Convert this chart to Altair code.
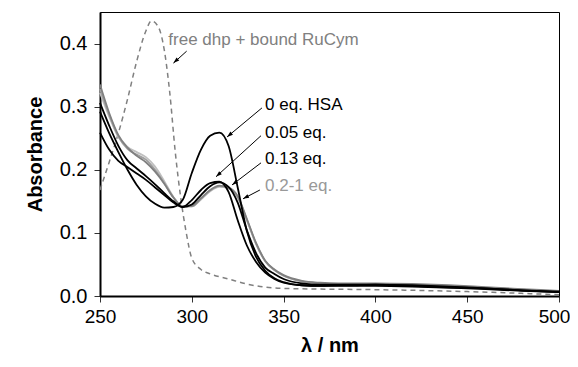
import math
import altair as alt
import pandas as pd

FONT = "Liberation Sans"
W, H = 459, 284
XMIN, XMAX, YMAX = 250, 500, 0.45

# ---- data ----
wl = [250, 255, 260, 265, 270, 275, 280, 285, 290, 295, 300, 305, 310, 315, 320,
      325, 330, 335, 340, 345, 350, 360, 370, 380, 390, 400, 420, 440, 460, 480, 500]

eq0 = [0.292, 0.258, 0.228, 0.200, 0.176, 0.158, 0.146, 0.140, 0.141, 0.152, 0.195,
       0.232, 0.254, 0.259, 0.238, 0.172, 0.103, 0.062, 0.040, 0.028, 0.022, 0.017,
       0.016, 0.016, 0.016, 0.016, 0.015, 0.013, 0.011, 0.008, 0.006]
eq005 = [0.259, 0.232, 0.214, 0.204, 0.194, 0.184, 0.172, 0.160, 0.148, 0.141, 0.152,
         0.168, 0.179, 0.181, 0.165, 0.120, 0.080, 0.054, 0.037, 0.027, 0.021, 0.017,
         0.016, 0.017, 0.017, 0.018, 0.016, 0.014, 0.012, 0.009, 0.006]
eq013 = [0.306, 0.270, 0.238, 0.215, 0.202, 0.190, 0.177, 0.163, 0.150, 0.141, 0.145,
         0.160, 0.174, 0.180, 0.173, 0.148, 0.104, 0.068, 0.045, 0.035, 0.027, 0.020,
         0.018, 0.018, 0.018, 0.018, 0.017, 0.015, 0.012, 0.009, 0.007]
eq02 = [0.335, 0.290, 0.255, 0.235, 0.222, 0.212, 0.197, 0.178, 0.156, 0.142, 0.143,
        0.155, 0.168, 0.175, 0.172, 0.158, 0.122, 0.084, 0.056, 0.042, 0.033, 0.024,
        0.021, 0.020, 0.020, 0.020, 0.019, 0.017, 0.014, 0.011, 0.008]
eq05 = [0.328, 0.287, 0.253, 0.233, 0.224, 0.216, 0.200, 0.179, 0.156, 0.142, 0.142,
        0.154, 0.167, 0.174, 0.171, 0.157, 0.121, 0.083, 0.055, 0.041, 0.032, 0.023,
        0.020, 0.019, 0.019, 0.019, 0.018, 0.016, 0.013, 0.010, 0.007]
eq1 = [0.322, 0.284, 0.252, 0.236, 0.228, 0.220, 0.205, 0.182, 0.157, 0.142, 0.142,
       0.153, 0.166, 0.173, 0.171, 0.156, 0.120, 0.082, 0.055, 0.041, 0.032, 0.023,
       0.020, 0.019, 0.019, 0.019, 0.018, 0.016, 0.013, 0.010, 0.007]

series_names = ["1 eq.", "0.5 eq.", "0.2 eq.", "0.13 eq.", "0.05 eq.", "0 eq."]
series_values = [eq1, eq05, eq02, eq013, eq005, eq0]
series_colors = ["#c0c0c0", "#a0a0a0", "#808080", "#000000", "#000000", "#000000"]

wl_dash = [250, 255, 260, 265, 270, 275, 278, 282, 285, 288, 291, 294, 297, 300,
           305, 310, 320, 330, 340, 350, 370, 400, 450, 500]
a_dash = [0.168, 0.212, 0.258, 0.312, 0.372, 0.420, 0.436, 0.425, 0.390, 0.322,
          0.228, 0.155, 0.100, 0.060, 0.042, 0.035, 0.027, 0.019, 0.014, 0.012,
          0.011, 0.010, 0.007, 0.002]

labels = ["free dhp + bound RuCym", "0 eq. HSA", "0.05 eq.", "0.13 eq.", "0.2-1 eq."]
label_x = [287.2, 339.9, 339.9, 339.9, 339.9]
label_y = [0.406, 0.303, 0.258, 0.217, 0.174]
label_colors = ["#808080", "#000000", "#000000", "#000000", "#999999"]

arrow_x1 = [297.2, 338.2, 337.7, 337.7, 337.1]
arrow_y1 = [0.388, 0.298, 0.254, 0.211, 0.168]
arrow_x2 = [290.0, 319.2, 313.2, 321.9, 327.9]
arrow_y2 = [0.369, 0.252, 0.189, 0.176, 0.154]

x_ticks = [250, 300, 350, 400, 450, 500]
y_ticks = [0.0, 0.1, 0.2, 0.3, 0.4]

# ---- tables ----
rows = []
for name, vals in zip(series_names, series_values):
    for w, a in zip(wl, vals):
        rows.append({"series": name, "wl": w, "A": a})
df = pd.DataFrame(rows)
df_dash = pd.DataFrame({"wl": wl_dash, "A": a_dash})
df_lab = pd.DataFrame({"text": labels, "x": label_x, "y": label_y, "c": label_colors})


def head_angle(x1, y1, x2, y2):
    dx = (x2 - x1) * W / (XMAX - XMIN)
    dy = (y2 - y1) * H / YMAX
    ang = math.degrees(math.atan2(dx, dy))
    return ang % 360


df_arr = pd.DataFrame({"x1": arrow_x1, "y1": arrow_y1, "x2": arrow_x2, "y2": arrow_y2})
df_arr["ang"] = [head_angle(a, b, c, d) for a, b, c, d in
                 zip(arrow_x1, arrow_y1, arrow_x2, arrow_y2)]

xs = alt.Scale(domain=[XMIN, XMAX], nice=False, zero=False, padding=0)
ys = alt.Scale(domain=[0, YMAX], nice=False, padding=0)

X = alt.X("wl:Q", scale=xs, title="λ / nm",
          axis=alt.Axis(values=x_ticks, format="d", grid=False,
                        labelFlush=False, labelOverlap=False,
                        labelOffset={"condition": {"test": "datum.value == 500", "value": -5},
                                     "value": 0}))
Y = alt.Y("A:Q", scale=ys, title="Absorbance",
          axis=alt.Axis(values=y_ticks, format=".1f", grid=False,
                        labelFlush=False, labelOverlap=False))

dashed = alt.Chart(df_dash).mark_line(
    interpolate="monotone", color="#808080", strokeWidth=1.5, strokeDash=[5, 4]
).encode(x=X, y=Y)

curves = alt.Chart(df).mark_line(interpolate="monotone", strokeWidth=1.8).encode(
    x=X, y=Y,
    color=alt.Color("series:N", scale=alt.Scale(domain=series_names, range=series_colors),
                    legend=None),
)

rules = alt.Chart(df_arr).mark_rule(color="black", strokeWidth=1).encode(
    x=alt.X("x1:Q", scale=xs), y=alt.Y("y1:Q", scale=ys),
    x2="x2:Q", y2="y2:Q",
)
heads = alt.Chart(df_arr).mark_point(
    shape="M0,0L0.5,1.5L-0.5,1.5Z", filled=True, color="black", size=64, opacity=1
).encode(
    x=alt.X("x2:Q", scale=xs), y=alt.Y("y2:Q", scale=ys),
    angle=alt.Angle("ang:Q", scale=None),
)

texts = alt.Chart(df_lab).mark_text(
    align="left", baseline="middle", fontSize=17, font=FONT
).encode(
    x=alt.X("x:Q", scale=xs), y=alt.Y("y:Q", scale=ys),
    text="text:N", color=alt.Color("c:N", scale=None),
)

chart = alt.layer(dashed, curves, rules, heads, texts).properties(
    width=W, height=H,
    padding={"left": 92, "top": 4, "right": 11, "bottom": 60},
    autosize=alt.AutoSizeParams(type="none"),
).configure_view(
    stroke="black", strokeWidth=1
).configure_axis(
    labelFont=FONT, titleFont=FONT, labelFontSize=20, titleFontSize=20,
    labelColor="black", titleColor="black", titleFontWeight="bold",
    domainColor="black", domainWidth=2, tickColor="#333333", tickSize=6, tickWidth=1,
)

chart = chart.configure_axisY(titlePadding=14, labelPadding=7).configure_axisX(
    titlePadding=9, labelPadding=5, labelFontSize=19)

chart.save("out.html", embed_options={"renderer": "svg", "actions": False})
